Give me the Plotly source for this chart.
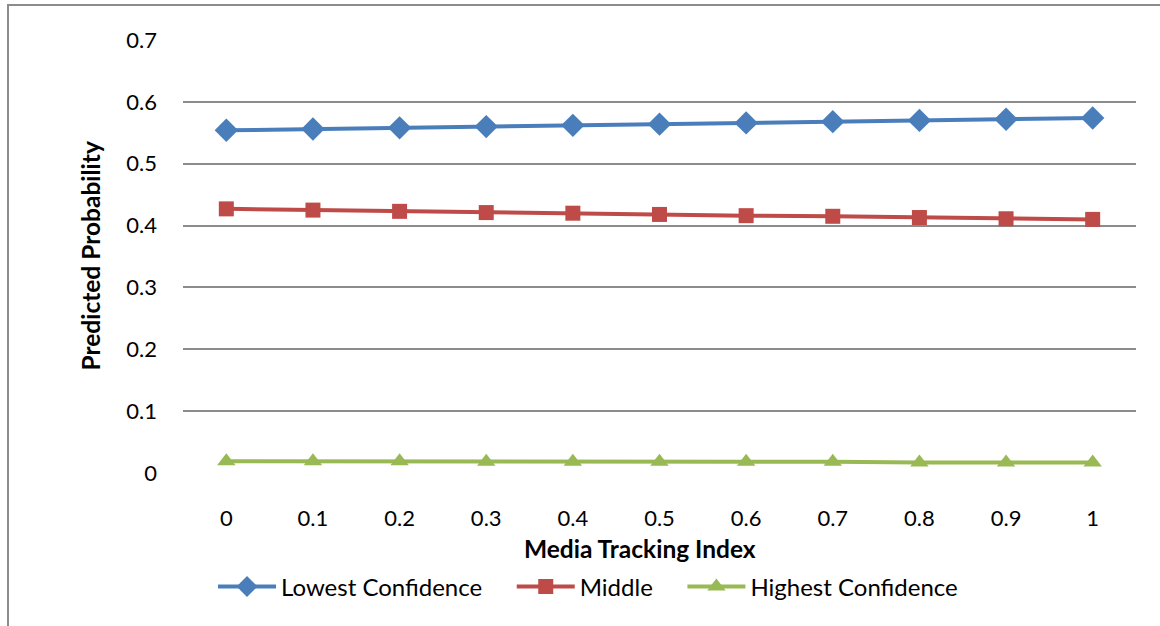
import plotly.graph_objects as go

categories = ["0", "0.1", "0.2", "0.3", "0.4", "0.5", "0.6", "0.7", "0.8", "0.9", "1"]
lowest = [0.554, 0.556, 0.558, 0.560, 0.562, 0.564, 0.566, 0.568, 0.570, 0.572, 0.574]
middle = [0.427, 0.425, 0.423, 0.421, 0.420, 0.418, 0.416, 0.415, 0.413, 0.411, 0.410]
highest = [0.019, 0.019, 0.019, 0.018, 0.018, 0.018, 0.018, 0.018, 0.017, 0.017, 0.017]
series_names = ["Lowest Confidence", "Middle", "Highest Confidence"]
y_ticks = [0, 0.1, 0.2, 0.3, 0.4, 0.5, 0.6, 0.7]
y_ticktext = ["0", "0.1", "0.2", "0.3", "0.4", "0.5", "0.6", "0.7"]

FONT = "Lato, 'Open Sans', sans-serif"
FS = 22
LFS = 24
TFS = 24.5
GAP = "\u00a0" * 4

fig = go.Figure()
fig.add_trace(go.Scatter(x=categories, y=lowest, name=series_names[0] + GAP, mode="lines+markers",
                         line=dict(color="#4A7EBB", width=4),
                         marker=dict(symbol="diamond", size=18, color="#4A7EBB")))
fig.add_trace(go.Scatter(x=categories, y=middle, name=series_names[1] + GAP, mode="lines+markers",
                         line=dict(color="#BE4B48", width=4),
                         marker=dict(symbol="square", size=15, color="#BE4B48")))
fig.add_trace(go.Scatter(x=categories, y=highest, name=series_names[2], mode="lines+markers",
                         line=dict(color="#98B954", width=4),
                         marker=dict(symbol="triangle-up", size=16, color="#98B954")))

fig.update_layout(
    width=1160, height=626,
    margin=dict(l=183, r=24, t=40, b=153),
    paper_bgcolor="white", plot_bgcolor="white",
    font=dict(family=FONT, size=FS, color="black"),
    showlegend=True,
    legend=dict(orientation="h", x=0.425, xanchor="center", y=-0.263, yanchor="middle",
                font=dict(size=LFS), itemwidth=58, traceorder="normal"),
    xaxis=dict(type="category", range=[-0.5, 10.5], showgrid=False, zeroline=False,
               showline=False, ticks="", tickfont=dict(size=FS), ticklabelstandoff=30),
    yaxis=dict(range=[0, 0.7], tickvals=y_ticks, ticktext=y_ticktext, showgrid=True,
               gridcolor="#8C8C8C", gridwidth=1.5, zeroline=False, showline=False,
               ticks="", ticklabelstandoff=25, tickfont=dict(size=FS)),
    annotations=[
        dict(text="<b>Media Tracking Index</b>", xref="paper", yref="paper",
             x=(640 - 183) / 953, y=(473 - 548) / 433, xanchor="center", yanchor="middle",
             showarrow=False, font=dict(size=TFS)),
        dict(text="<b>Predicted Probability</b>", xref="paper", yref="paper",
             x=(90 - 183) / 953, y=0.5, xanchor="center", yanchor="middle",
             textangle=-90, showarrow=False, font=dict(size=TFS)),
    ],
    shapes=[
        dict(type="line", xref="paper", yref="paper",
             x0=(7 - 183) / 953, x1=(1162 - 183) / 953, y0=(473 - 5) / 433, y1=(473 - 5) / 433,
             line=dict(color="#8C8C8C", width=2)),
        dict(type="line", xref="paper", yref="paper",
             x0=(8 - 183) / 953, x1=(8 - 183) / 953, y0=(473 - 5) / 433, y1=(473 - 630) / 433,
             line=dict(color="#8C8C8C", width=2)),
    ],
)

fig.write_html("out.html", config={"displayModeBar": False},
               post_script="document.body.style.margin='0';")
